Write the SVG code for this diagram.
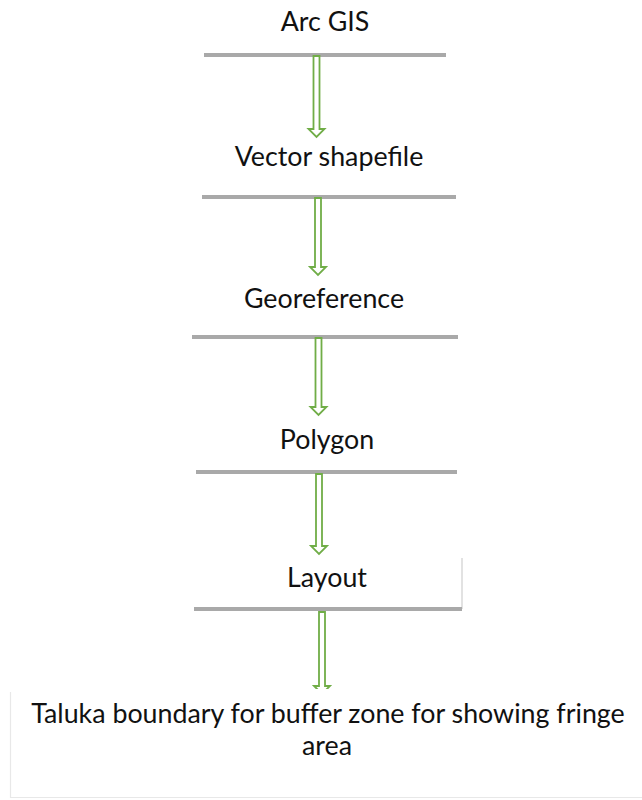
<svg xmlns="http://www.w3.org/2000/svg" width="642" height="800" viewBox="0 0 642 800">
<style>
.t{font-family:Lato,"Open Sans","Liberation Sans",sans-serif;font-size:26.8px;fill:#111;text-anchor:middle}
.bar{stroke:#A9A9A9;stroke-width:4;fill:none}
.arr{fill:#fff;stroke:#70AD47;stroke-width:1.8;stroke-linejoin:miter}
</style>
<rect width="642" height="800" fill="#fff"/>
<g id="n1"><text class="t" x="325" y="31">Arc GIS</text><line class="bar" x1="204" y1="55" x2="446" y2="55"/></g>
<g id="n2"><text class="t" x="329" y="166">Vector shapefile</text><line class="bar" x1="202" y1="197" x2="456" y2="197"/></g>
<g id="n3"><text class="t" x="324" y="308">Georeference</text><line class="bar" x1="192" y1="337" x2="458" y2="337"/></g>
<g id="n4"><text class="t" x="327" y="449">Polygon</text><line class="bar" x1="196" y1="472" x2="457" y2="472"/></g>
<g id="n5"><path d="M462 558 V609" stroke="#D9D9D9" stroke-width="1.5" fill="none"/><text class="t" x="327" y="587">Layout</text><line class="bar" x1="194" y1="609" x2="462" y2="609"/></g>
<g id="connectors">
<path class="arr" d="M313.5 56 H319.5 V129 H324.5 L316.5 137 L308.5 129 H313.5 Z"/>
<path class="arr" d="M315 198 H321 V267 H326 L318 275 L310 267 H315 Z"/>
<path class="arr" d="M315.5 338 H321.5 V407 H326.5 L318.5 415 L310.5 407 H315.5 Z"/>
<path class="arr" d="M316 474 H322 V546 H327 L319 554 L311 546 H316 Z"/>
<path class="arr" d="M319 612 H325 V686 H330 L322 694 L314 686 H319 Z"/>
</g>
<g id="n6"><rect x="10" y="689" width="640" height="109" fill="#fff"/>
<path d="M10.5 692 V797.5 H642" stroke="#E8E8E8" stroke-width="1.2" fill="none"/>
<text class="t" x="328" y="723">Taluka boundary for buffer zone for showing fringe</text>
<text class="t" x="327" y="755">area</text></g>
</svg>
